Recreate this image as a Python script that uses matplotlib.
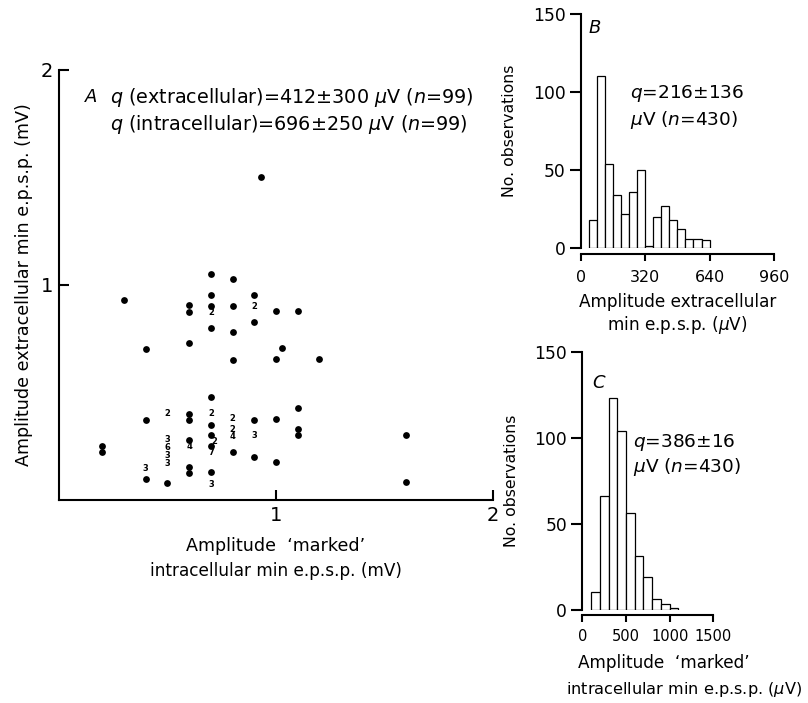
import numpy as np
import matplotlib.pyplot as plt

plt.rcParams['font.family'] = ['DejaVu Sans']
plt.rcParams['mathtext.fontset'] = 'dejavusans'

# ---- panel A: single points (intracellular, extracellular), mV ----
dots_x = [0.30, 0.60, 0.60, 0.70, 0.80, 0.70, 0.90, 0.70, 0.80, 1.00, 1.10,
          0.90, 0.70, 0.80, 0.40, 0.60, 0.80, 1.00, 1.03, 1.20, 0.93,
          0.70, 1.10, 0.40, 0.60, 0.60, 0.70, 0.90, 1.00, 1.10, 1.10, 1.60,
          0.20, 0.20, 0.40, 0.50, 0.60, 0.60, 0.60, 0.70, 0.70, 0.70,
          0.80, 0.90, 1.00, 1.60]
dots_y = [0.93, 0.905, 0.876, 1.05, 1.03, 0.953, 0.953, 0.904, 0.904, 0.88, 0.88,
          0.83, 0.80, 0.78, 0.70, 0.73, 0.65, 0.654, 0.705, 0.654, 1.50,
          0.478, 0.43, 0.374, 0.40, 0.37, 0.349, 0.374, 0.375, 0.33, 0.302, 0.302,
          0.251, 0.223, 0.098, 0.078, 0.279, 0.152, 0.127, 0.30, 0.253, 0.129,
          0.225, 0.20, 0.177, 0.082]

# ---- panel A: coincident points, drawn as counts ----
multi_x = [0.70, 0.90, 0.50, 0.70, 0.80, 0.80, 0.80, 0.90, 0.40,
           0.50, 0.50, 0.50, 0.50, 0.60, 0.714, 0.70, 0.70]
multi_y = [0.87, 0.90, 0.40, 0.40, 0.38, 0.329, 0.294, 0.30, 0.147,
           0.28, 0.243, 0.205, 0.168, 0.248, 0.274, 0.22, 0.074]
multi_n = ['2', '2', '2', '2', '2', '2', '4', '3', '3',
           '3', '6', '3', '3', '4', '2', '7', '3']

# ---- panel B: extracellular histogram (40 uV bins) ----
b_left = [40, 80, 120, 160, 200, 240, 280, 320, 360, 400, 440, 480, 520, 560, 600]
b_counts = [18, 110, 54, 34, 22, 36, 50, 1, 20, 27, 18, 12, 6, 6, 5]
b_width = 40

# ---- panel C: marked intracellular histogram (100 uV bins) ----
c_left = [100, 200, 300, 400, 500, 600, 700, 800, 900, 1000]
c_counts = [10, 66, 123, 104, 56, 31, 19, 6, 3, 1]
c_width = 100

LAB = 12.2    # axis label size
ANN = 13.3    # annotation size
MU = r"$\mathit{\mu}$"

fig = plt.figure(figsize=(8.08, 7.03), dpi=100)

# ================= A =================
axA = fig.add_axes([0.0730, 0.2888, 0.5371, 0.6117])
axA.scatter(dots_x, dots_y, s=24, c='black', linewidths=0, zorder=3)
for x, y, t in zip(multi_x, multi_y, multi_n):
    axA.text(x, y, t, fontsize=6, fontweight='bold', ha='center', va='center')
axA.set_xlim(0, 2)
axA.set_ylim(0, 2)
axA.set_xticks([1, 2])
axA.set_yticks([1, 2])
axA.spines[['top', 'right']].set_visible(False)
for s in ['left', 'bottom']:
    axA.spines[s].set_linewidth(1.5)
axA.tick_params(direction='in', length=7, width=1.5, labelsize=14, pad=4)
axA.text(0.5, -0.107, "Amplitude  \u2018marked\u2019", transform=axA.transAxes,
         fontsize=12.6, ha='center', va='center')
axA.text(0.5, -0.165, "intracellular min e.p.s.p. (mV)", transform=axA.transAxes,
         fontsize=LAB, ha='center', va='center')
axA.set_ylabel("Amplitude extracellular min e.p.s.p. (mV)", fontsize=12.6, labelpad=6)
axA.text(0.06, 0.937, "A", transform=axA.transAxes, fontsize=13, style='italic',
         ha='left', va='center')
axA.text(0.1175, 0.937,
         r"$q$ (extracellular)=412$\pm$300 " + MU + r"V ($n$=99)",
         transform=axA.transAxes, fontsize=13.8, ha='left', va='center')
axA.text(0.1175, 0.872,
         r"$q$ (intracellular)=696$\pm$250 " + MU + r"V ($n$=99)",
         transform=axA.transAxes, fontsize=13.8, ha='left', va='center')


def hist_axes(ax, xmax, xticks, xlabsize):
    ax.set_xlim(0, xmax)
    ax.set_ylim(0, 150)
    ax.set_xticks(xticks)
    ax.set_yticks([0, 50, 100, 150])
    ax.spines[['top', 'right']].set_visible(False)
    ax.spines['left'].set_bounds(0, 150)
    ax.spines['bottom'].set_bounds(0, xmax)
    ax.spines['bottom'].set_position(('outward', 4))
    for s in ['left', 'bottom']:
        ax.spines[s].set_linewidth(1.5)
    ax.tick_params(axis='y', direction='out', length=8, width=1.5, labelsize=12.3, pad=3)
    ax.tick_params(axis='x', direction='out', length=5, width=1.5, labelsize=xlabsize, pad=7)


# ================= B =================
axB = fig.add_axes([0.7187, 0.6472, 0.2392, 0.3329])
axB.bar(b_left, b_counts, width=b_width, align='edge', color='white',
        edgecolor='black', linewidth=0.9)
hist_axes(axB, 960, [0, 320, 640, 960], 11.4)
axB.set_ylabel("No. observations", fontsize=11.3)
axB.yaxis.set_label_coords(-0.33, 0.5)
axB.text(0.038, 0.94, "B", transform=axB.transAxes, fontsize=13, style='italic',
         ha='left', va='center')
axB.text(0.255, 0.662, r"$q$=216$\pm$136", transform=axB.transAxes,
         fontsize=ANN, ha='left', va='center')
axB.text(0.255, 0.547, MU + r"V ($n$=430)", transform=axB.transAxes,
         fontsize=ANN, ha='left', va='center')
axB.text(0.5, -0.23, "Amplitude extracellular", transform=axB.transAxes,
         fontsize=LAB, ha='center', va='center')
axB.text(0.5, -0.33, "min e.p.s.p. (" + MU + "V)", transform=axB.transAxes,
         fontsize=LAB, ha='center', va='center')

# ================= C =================
axC = fig.add_axes([0.7207, 0.1330, 0.1621, 0.3663])
axC.bar(c_left, c_counts, width=c_width, align='edge', color='white',
        edgecolor='black', linewidth=0.9)
hist_axes(axC, 1500, [0, 500, 1000, 1500], 10.5)
axC.tick_params(axis='x', pad=5)
axC.set_ylabel("No. observations", fontsize=11.3)
axC.yaxis.set_label_coords(-0.48, 0.5)
axC.text(0.074, 0.88, "C", transform=axC.transAxes, fontsize=13, style='italic',
         ha='left', va='center')
axC.text(0.384, 0.647, r"$q$=386$\pm$16", transform=axC.transAxes,
         fontsize=ANN, ha='left', va='center')
axC.text(0.384, 0.553, MU + r"V ($n$=430)", transform=axC.transAxes,
         fontsize=ANN, ha='left', va='center')
axC.text(0.62, -0.207, "Amplitude  \u2018marked\u2019", transform=axC.transAxes,
         fontsize=LAB, ha='center', va='center')
axC.text(0.78, -0.311, "intracellular min e.p.s.p. (" + MU + "V)", transform=axC.transAxes,
         fontsize=11.6, ha='center', va='center')

fig.savefig("out.png", dpi=100)
